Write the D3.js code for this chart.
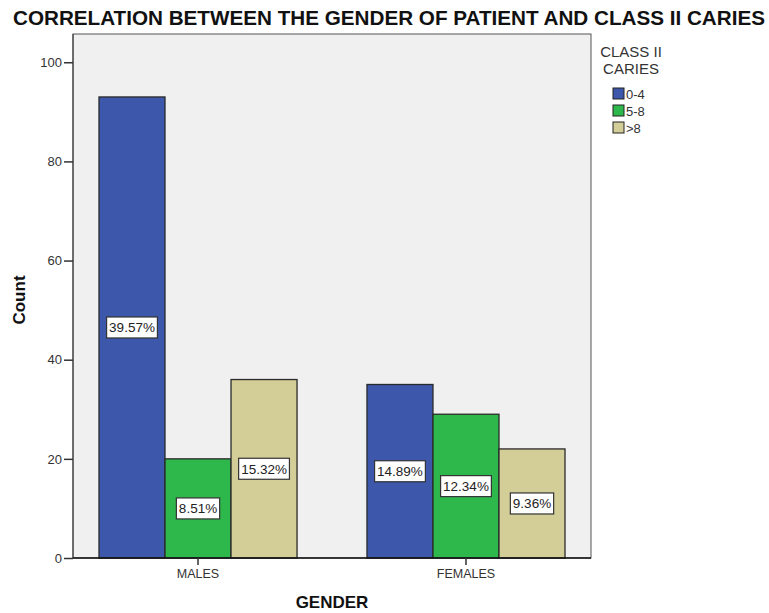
<!DOCTYPE html>
<html><head><meta charset="utf-8">
<script src="https://cdn.jsdelivr.net/npm/d3@7/dist/d3.min.js"></script>
<style>body{margin:0;background:#fff}svg{display:block}text{font-family:"Liberation Sans",Arial,sans-serif}</style>
</head><body>
<script>
const categories = ["MALES", "FEMALES"];
const series = ["0-4", "5-8", ">8"];
const values = {
  "MALES":   [93, 20, 36],
  "FEMALES": [35, 29, 22]
};
const percentLabels = {
  "MALES":   ["39.57%", "8.51%", "15.32%"],
  "FEMALES": ["14.89%", "12.34%", "9.36%"]
};
const yTicks = [0, 20, 40, 60, 80, 100];
const colors = ["#3d57aa", "#2eb84c", "#d3cd98"];

const W = 769, H = 613;
const svg = d3.select("body").append("svg").attr("width", W).attr("height", H);
const plot = {l: 73, r: 591, t: 34, b: 558};

svg.append("rect").attr("x", plot.l).attr("y", plot.t).attr("width", plot.r - plot.l).attr("height", plot.b - plot.t)
  .attr("fill", "#f0f0f0").attr("stroke", "#555").attr("stroke-width", 1);

const y = d3.scaleLinear().domain([0, 105.7]).range([plot.b, plot.t]);
const x0 = d3.scaleBand().domain(categories).range([plot.l, plot.r]).paddingInner(0.261).paddingOuter(0.097);
const x1 = d3.scaleBand().domain(series).range([0, x0.bandwidth()]);

const rows = [];
categories.forEach(c => series.forEach((s, i) => rows.push({c, s, i, v: values[c][i], p: percentLabels[c][i]})));

svg.append("g").selectAll("rect").data(rows).join("rect")
  .attr("x", d => x0(d.c) + x1(d.s))
  .attr("y", d => y(d.v))
  .attr("width", x1.bandwidth())
  .attr("height", d => y(0) - y(d.v))
  .attr("fill", d => colors[d.i])
  .attr("stroke", "#2a2a2a").attr("stroke-width", 1.3);

// labels
const lg = svg.append("g").selectAll("g").data(rows).join("g")
  .attr("transform", d => `translate(${x0(d.c) + x1(d.s) + x1.bandwidth()/2},${y(d.v/2)})`);
lg.each(function(d){
  const g = d3.select(this);
  const t = g.append("text").attr("text-anchor", "middle").attr("dy", "0.36em")
    .attr("font-size", 13.5).attr("fill", "#222").text(d.p);
  const bb = t.node().getBBox();
  g.insert("rect", "text").attr("x", bb.x - 2.5).attr("y", -10.5).attr("width", bb.width + 5).attr("height", 21)
    .attr("fill", "#fff").attr("stroke", "#333").attr("stroke-width", 1.2);
});

// y axis
const ya = svg.append("g").attr("transform", `translate(${plot.l},0)`)
  .call(d3.axisLeft(y).tickValues(yTicks).tickSize(9).tickPadding(2));
ya.select(".domain").attr("stroke", "#333").attr("d", `M0,${plot.b}V${plot.t}`);
ya.selectAll(".tick line").attr("stroke", "#333").attr("stroke-width", 1.5);
ya.selectAll(".tick text").attr("font-size", 13).attr("fill", "#333").attr("font-family", '"Liberation Sans",Arial,sans-serif');

// x axis
const xa = svg.append("g").attr("transform", `translate(0,${plot.b})`)
  .call(d3.axisBottom(x0).tickSize(7).tickPadding(4));
xa.select(".domain").attr("stroke", "#111").attr("stroke-width", 1.5).attr("d", `M${plot.l},0H${plot.r}`);
xa.selectAll(".tick line").attr("stroke", "#333").attr("stroke-width", 1.5);
xa.selectAll(".tick text").attr("font-size", 12.5).attr("fill", "#333").attr("font-family", '"Liberation Sans",Arial,sans-serif');

// titles
svg.append("text").attr("x", 389).attr("y", 25).attr("text-anchor", "middle")
  .attr("font-size", 20).attr("font-weight", "bold").attr("fill", "#111")
  .style("font-family", '"Liberation Sans Narrow","Arial Narrow","Liberation Sans",sans-serif')
  .attr("textLength", 752).attr("lengthAdjust", "spacingAndGlyphs")
  .text("CORRELATION BETWEEN THE GENDER OF PATIENT AND CLASS II CARIES");
svg.append("text").attr("x", 332).attr("y", 608).attr("text-anchor", "middle")
  .attr("font-size", 17).attr("font-weight", "bold").attr("fill", "#111").text("GENDER");
svg.append("text").attr("transform", "translate(25,300) rotate(-90)").attr("text-anchor", "middle")
  .attr("font-size", 17).attr("font-weight", "bold").attr("fill", "#111").text("Count");

// legend
svg.append("text").attr("x", 631).attr("y", 57).attr("text-anchor", "middle").attr("font-size", 15).attr("fill", "#333").text("CLASS II");
svg.append("text").attr("x", 631).attr("y", 74).attr("text-anchor", "middle").attr("font-size", 15).attr("fill", "#333").text("CARIES");
const leg = svg.append("g").selectAll("g").data(series).join("g")
  .attr("transform", (d, i) => `translate(613,${88 + i * 17})`);
leg.append("rect").attr("width", 11).attr("height", 11).attr("fill", (d, i) => colors[i]).attr("stroke", "#222").attr("stroke-width", 1);
leg.append("text").attr("x", 13).attr("y", 10.5).attr("font-size", 13).attr("fill", "#333").text(d => d);
</script>
</body></html>
